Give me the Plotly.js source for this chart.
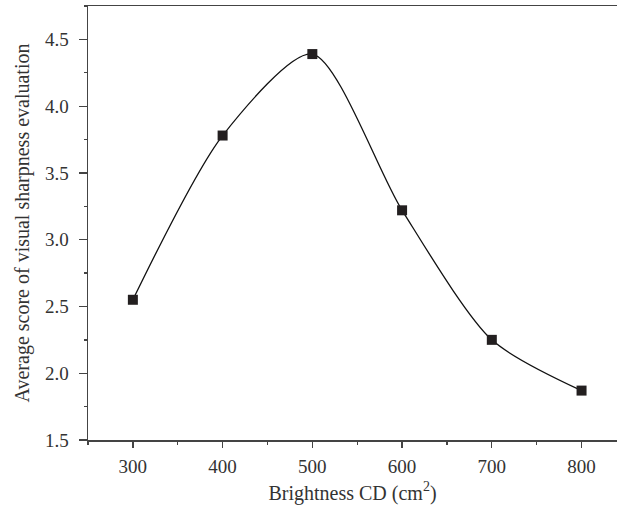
<!DOCTYPE html>
<html>
<head>
<meta charset="utf-8">
<script src="https://cdn.plot.ly/plotly-3.0.1.min.js"></script>
<style>html,body{margin:0;padding:0;background:#fff;overflow:hidden;}</style>
</head>
<body>
<div id="chart" style="width:617px;height:513px;"></div>
<script>
var brightness = [300, 400, 500, 600, 700, 800];
var avgScore = [2.55, 3.78, 4.39, 3.22, 2.25, 1.87];
var xTickVals = [300, 400, 500, 600, 700, 800];
var yTickVals = [1.5, 2.0, 2.5, 3.0, 3.5, 4.0, 4.5];
var yTickText = ['1.5', '2.0', '2.5', '3.0', '3.5', '4.0', '4.5'];

var fontFam = '"Liberation Serif", "DejaVu Serif", serif';

var trace = {
  x: brightness,
  y: avgScore,
  type: 'scatter',
  mode: 'lines+markers',
  line: {color: '#111', width: 1.3, shape: 'spline', smoothing: 0.75},
  marker: {symbol: 'square', size: 10, color: '#231f20', line: {width: 0}},
  hoverinfo: 'skip'
};

var axisCommon = {
  showgrid: false,
  zeroline: false,
  showline: true,
  linecolor: '#444',
  linewidth: 1.5,
  ticks: 'outside',
  tickcolor: '#444',
  tickwidth: 1.3,
  ticklen: 6,
  tickfont: {family: fontFam, size: 19, color: '#333'}
};

var layout = {
  width: 617,
  height: 513,
  margin: {l: 88, r: 0, t: 6, b: 73},
  paper_bgcolor: '#fff',
  plot_bgcolor: '#fff',
  showlegend: false,
  xaxis: Object.assign({}, axisCommon, {
    range: [250, 839.5],
    tickvals: xTickVals,
    mirror: true,
    ticklabelstandoff: 3,
    minor: {dtick: 50, tick0: 250, ticks: 'outside', ticklen: 3, tickcolor: '#444', tickwidth: 1.3},
    title: {text: 'Brightness CD (cm<sup>2</sup>)', font: {family: fontFam, size: 20, color: '#333'}, standoff: 9}
  }),
  yaxis: Object.assign({}, axisCommon, {
    range: [1.5, 4.75],
    tickvals: yTickVals,
    ticktext: yTickText,
    mirror: false,
    ticklen: 8,
    ticklabelstandoff: 6,
    minor: {dtick: 0.25, tick0: 1.5, ticks: 'outside', ticklen: 3, tickcolor: '#444', tickwidth: 1.3},
    title: {text: 'Average score of visual sharpness evaluation', font: {family: fontFam, size: 20, color: '#333'}, standoff: 10}
  })
};

Plotly.newPlot('chart', [trace], layout, {displayModeBar: false, staticPlot: true});
</script>
</body>
</html>
